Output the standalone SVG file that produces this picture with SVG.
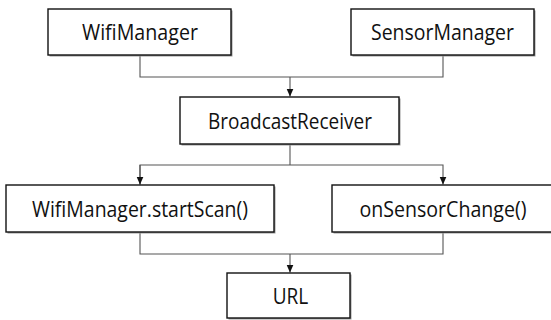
<svg xmlns="http://www.w3.org/2000/svg" width="551" height="320" viewBox="0 0 551 320">
<defs>
<style>
.box{fill:#fff;stroke:#111;stroke-width:1.4}
.sh{fill:#9a9a9a}
.lbl{font-family:"Open Sans","Noto Sans","Liberation Sans",sans-serif;font-size:21px;fill:#111;text-anchor:middle}
.con{fill:none;stroke:#555;stroke-width:1.1}
</style>
<marker id="ah" viewBox="0 0 8 8" refX="8" refY="4" markerWidth="8" markerHeight="8" markerUnits="userSpaceOnUse" orient="auto">
<path d="M0,0.5 L8,4 L0,7.5 Z" fill="#111"/>
</marker>
</defs>
<rect width="551" height="320" fill="#fff"/>
<g id="connectors">
<path class="con" d="M140,56 V77 H443 V56"/>
<path class="con" d="M290,77 V96.5" marker-end="url(#ah)"/>
<path class="con" d="M290,145 V165"/>
<path class="con" d="M140,184.5 V165 H443 V184.5" marker-end="url(#ah)"/>
<path class="con" d="M140,165 V184.5" marker-end="url(#ah)"/>
<path class="con" d="M140,233 V254 H443 V233"/>
<path class="con" d="M290,254 V272.5" marker-end="url(#ah)"/>
</g>
<g id="wifimanager">
<rect class="sh" x="49.5" y="10.5" width="183" height="46"/>
<rect class="box" x="48" y="9" width="183" height="46"/>
<text class="lbl" x="140" y="40" textLength="116" lengthAdjust="spacingAndGlyphs">WifiManager</text>
</g>
<g id="sensormanager">
<rect class="sh" x="352.5" y="10.5" width="183" height="46"/>
<rect class="box" x="351" y="9" width="183" height="46"/>
<text class="lbl" x="442.5" y="40" textLength="143" lengthAdjust="spacingAndGlyphs">SensorManager</text>
</g>
<g id="broadcastreceiver">
<rect class="sh" x="181.5" y="98.5" width="219" height="47"/>
<rect class="box" x="180" y="97" width="219" height="47"/>
<text class="lbl" x="290" y="129" textLength="164" lengthAdjust="spacingAndGlyphs">BroadcastReceiver</text>
</g>
<g id="startscan">
<rect class="sh" x="7.5" y="186.5" width="268" height="47"/>
<rect class="box" x="6" y="185" width="268" height="47"/>
<text class="lbl" x="140" y="216.5" textLength="216" lengthAdjust="spacingAndGlyphs">WifiManager.startScan()</text>
</g>
<g id="onsensorchange">
<rect class="sh" x="333.5" y="186.5" width="222" height="47"/>
<rect class="box" x="332" y="185" width="222" height="47"/>
<text class="lbl" x="443" y="216.5" textLength="167" lengthAdjust="spacingAndGlyphs">onSensorChange()</text>
</g>
<g id="url">
<rect class="sh" x="228.5" y="274.5" width="123" height="45"/>
<rect class="box" x="227" y="273" width="123" height="45"/>
<text class="lbl" x="290.5" y="304" textLength="35.6" lengthAdjust="spacingAndGlyphs">URL</text>
</g>
</svg>
